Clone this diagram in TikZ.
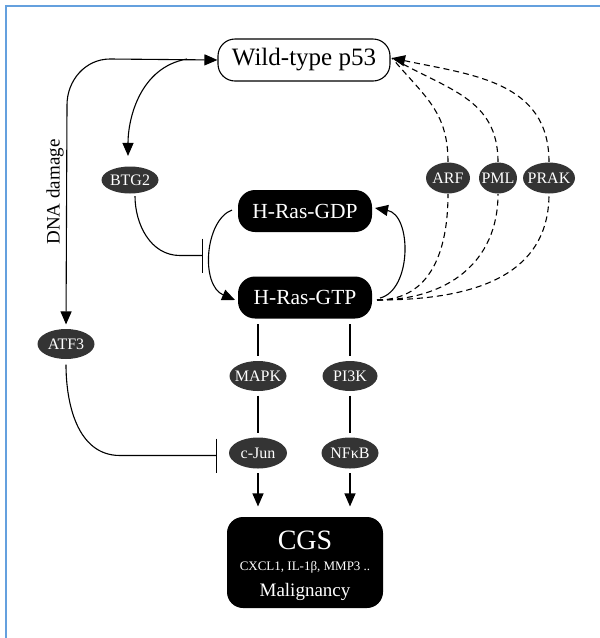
\documentclass[tikz,border=0pt]{standalone}
\usepackage{fontspec}
\setmainfont{Liberation Serif}
\usetikzlibrary{arrows.meta,shapes.geometric}
\definecolor{ellgray}{RGB}{52,52,52}
\definecolor{frameblue}{RGB}{100,160,222}
\newcommand\zw[1]{\makebox[0pt]{#1}}
\begin{document}
\begin{tikzpicture}[x=1pt,y=-1pt,
  >={Triangle[length=13pt,width=11pt]},
  line width=1.1pt,
  inhib/.style={-{Bar[width=34pt,line width=1.3pt]}},
  elab/.style={ellipse,fill=ellgray,text=white,inner sep=0pt,minimum height=30pt,font=\fontsize{16}{16}\selectfont},
  rasbox/.style={fill=black,text=white,rounded corners=17pt,minimum width=134pt,minimum height=42pt,inner sep=0pt,font=\fontsize{21.5}{21.5}\selectfont},
  dsh/.style={dash pattern=on 6pt off 4pt,line width=1.1pt}]
\useasboundingbox (0,0) rectangle (600,638);
\draw[frameblue,line width=2pt] (600,6) -- (6,6) -- (6,638);

% nodes
\node[draw=black,line width=1.1pt,fill=white,rounded corners=17pt,minimum width=172pt,minimum height=42pt,inner sep=0pt,font=\fontsize{25}{25}\selectfont] (p53) at (304,60) {Wild-type p53};
\node[rasbox] (gdp) at (305,211) {H-Ras-GDP};
\node[rasbox] (gtp) at (305,297.5) {H-Ras-GTP};
\node[elab,minimum width=57pt,minimum height=27pt] (btg2) at (130,180) {\zw{BTG2}};
\node[elab,minimum width=44pt,minimum height=31pt] (arf) at (448,178) {\zw{ARF}};
\node[elab,minimum width=38pt,minimum height=31pt] (pml) at (498,178) {\zw{PML}};
\node[elab,minimum width=52pt,minimum height=31pt] (prak) at (549,178) {\zw{PRAK}};
\node[elab,minimum width=57pt] (atf3) at (66,344) {\zw{ATF3}};
\node[elab,minimum width=57pt] (mapk) at (258,376) {\zw{MAPK}};
\node[elab,minimum width=55pt] (pi3k) at (350,376) {\zw{PI3K}};
\node[elab,minimum width=58pt,minimum height=31pt] (cjun) at (258,453) {\zw{c-Jun}};
\node[elab,minimum width=57pt,minimum height=31pt] (nfkb) at (350,453) {\zw{NFκB}};
\node[fill=black,rounded corners=16pt,minimum width=156pt,minimum height=91pt,inner sep=0pt] (cgs) at (305,562.5) {};
\node[text=white,font=\fontsize{28}{28}\selectfont,inner sep=0pt] (cgst) at (305,540) {CGS};
\node[text=white,font=\fontsize{13}{13}\selectfont,inner sep=0pt] (cgsg) at (305,567) {CXCL1, IL-1β, MMP3 ..};
\node[text=white,font=\fontsize{19}{19}\selectfont,inner sep=0pt] (cgsm) at (305,592) {Malignancy};
\node[rotate=90,font=\fontsize{19}{19}\selectfont,inner sep=0pt] (dna) at (55,192) {DNA damage};

% connectors
\coordinate (c1) at (110,59);
\coordinate (c2) at (67,105);
\draw[<->,shorten >=4pt] (p53.west) -- (c1) to[out=180,in=90] (c2) -- (atf3.north);
\coordinate (b0) at (187,59);
\draw[->,shorten >=10pt] (b0) to[out=190,in=90] (btg2.north -| 128,0);
\coordinate (bb) at (203,255.5);
\draw[inhib,shorten <=2pt] (btg2.south -| 135,0) to[out=-90,in=180] (180,255.5) -- (bb);
\coordinate (a1) at (217,455.5);
\draw[inhib,shorten <=5pt] (atf3.south) to[out=-90,in=180] (120,455.5) -- (a1);

\coordinate (gd0) at (232,210);
\coordinate (gt0) at (235,300);
\draw[->] (gd0) .. controls (205,220) and (200,285) .. (gt0);
\coordinate (gt1) at (380,298);
\coordinate (gd1) at (375,208);
\draw[->] (gt1) .. controls (412,290) and (412,215) .. (gd1);

\coordinate (g0) at (377,300);
\draw[dsh] (g0) to[out=0,in=-90,looseness=1.1] (arf.south);
\draw[dsh] (g0) to[out=0,in=-90,looseness=1.1] (pml.south);
\draw[dsh] (g0) to[out=0,in=-90,looseness=1.1] (prak.south);
\coordinate (ptip) at (392,58);
\draw[dsh] (arf.north) to[out=90,in=-50,looseness=1.1] (ptip);
\draw[dsh] (pml.north) to[out=90,in=-30,looseness=1.1] (ptip);
\draw[dsh,->] (prak.north) to[out=90,in=-12,looseness=1.1] (ptip);

\draw[shorten <=5pt,shorten >=4pt] (gtp.south -| mapk.north) -- (mapk.north);
\draw[shorten <=5pt,shorten >=4pt] (gtp.south -| pi3k.north) -- (pi3k.north);
\draw[shorten <=4pt,shorten >=4pt] (mapk.south) -- (cjun.north);
\draw[shorten <=4pt,shorten >=4pt] (pi3k.south) -- (nfkb.north);
\draw[->,shorten <=4pt,shorten >=10pt] (cjun.south) -- (cjun.south |- cgs.north);
\draw[->,shorten <=4pt,shorten >=10pt] (nfkb.south) -- (nfkb.south |- cgs.north);
\end{tikzpicture}
\end{document}
